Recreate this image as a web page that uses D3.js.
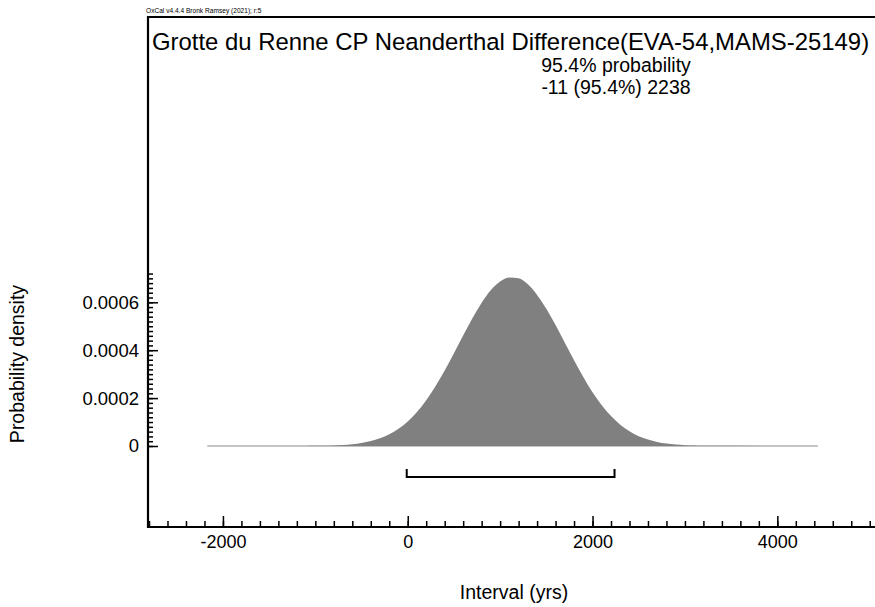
<!DOCTYPE html>
<head>
    <meta charset="utf-8">
    <script src="https://d3js.org/d3.v7.min.js"></script>
    <style>
        body { margin: 0; background: #fff; }
        text { font-family: "Liberation Sans", Arial, sans-serif; fill: #000; }
    </style>
</head>
<body>
<svg></svg>
</body>

<script>
    // Data
    var title = "Grotte du Renne CP Neanderthal Difference(EVA-54,MAMS-25149)";
    var header = "OxCal v4.4.4 Bronk Ramsey (2021); r:5";
    var rangeLabels = ["95.4% probability", "-11 (95.4%) 2238"];
    var hpdRange = [-11, 2238];

    var years = [-2170, -1100, -1000, -900, -800, -700, -600, -500, -400, -300, -200, -100,
        0, 100, 200, 300, 400, 500, 600, 700, 800, 900, 1000, 1100, 1200, 1300, 1400,
        1500, 1600, 1700, 1800, 1900, 2000, 2100, 2200, 2300, 2400, 2500, 2600, 2700,
        2800, 2900, 3000, 3100, 3200, 4440];
    var density = [0, 0.0000004, 0.0000007, 0.0000014, 0.0000025, 0.0000045, 0.0000076,
        0.0000127, 0.0000204, 0.000032, 0.0000486, 0.0000716,
        0.000102, 0.000142, 0.000191, 0.000249, 0.000315, 0.000387, 0.000461, 0.000533,
        0.000598, 0.000651, 0.000687, 0.000704, 0.000700, 0.000675, 0.000631,
        0.000573, 0.000505, 0.000431, 0.000358, 0.000288, 0.000224, 0.000170, 0.000125,
        0.000089, 0.0000615, 0.0000412, 0.0000269, 0.000017,
        0.0000104, 0.0000062, 0.0000036, 0.000002, 0.000001, 0];

    var xMajor = [-2000, 0, 2000, 4000];
    var xLabels = ["-2000", "0", "2000", "4000"];
    var yMajor = [0, 0.0002, 0.0004, 0.0006];
    var yLabels = ["0", "0.0002", "0.0004", "0.0006"];

    // Variables
    var width = 875;
    var height = 607;
    var pLeft = 148, pRight = 875, pTop = 17, pBottom = 527;

    var svg = d3.select('svg')
        .attr('width', width)
        .attr('height', height);

    var x = d3.scaleLinear().domain([-2811, 5057]).range([pLeft, pRight]);
    var y = d3.scaleLinear().domain([0, 0.0007]).range([446, 278.35]);

    // Baseline and distribution
    svg.append('line')
        .attr('x1', x(years[0])).attr('x2', x(years[years.length - 1]))
        .attr('y1', y(0)).attr('y2', y(0))
        .style('stroke', '#8a8a8a')
        .style('stroke-width', 1.2);

    var area = d3.area()
        .x(function (d, i) { return x(years[i]); })
        .y0(y(0))
        .y1(function (d) { return y(d); })
        .curve(d3.curveMonotoneX);

    svg.append('path')
        .attr('d', area(density))
        .style('fill', '#808080');

    // Range bracket
    var by = 477;
    svg.append('path')
        .attr('d', 'M' + x(hpdRange[0]) + ',' + (by - 8) + 'V' + by + 'H' + x(hpdRange[1]) + 'V' + (by - 8))
        .style('fill', 'none')
        .style('stroke', '#000')
        .style('stroke-width', 2);

    // Frame
    svg.append('path')
        .attr('d', 'M' + pRight + ',' + pTop + 'H' + pLeft + 'V' + pBottom + 'H' + pRight)
        .style('fill', 'none')
        .style('stroke', '#000')
        .style('stroke-width', 2.2);

    // X axis ticks
    var xMinor = svg.append('g')
        .attr('transform', 'translate(0,' + pBottom + ')')
        .call(d3.axisBottom(x).tickValues(d3.range(-2800, 5001, 200)).tickSize(-6).tickSizeOuter(0).tickFormat(''));
    xMinor.select('.domain').remove();

    var xAx = svg.append('g')
        .attr('transform', 'translate(0,' + pBottom + ')')
        .call(d3.axisBottom(x).tickValues(xMajor).tickSize(-11).tickSizeOuter(0)
            .tickFormat(function (d, i) { return xLabels[i]; }));
    xAx.select('.domain').remove();
    xAx.selectAll('text').style('font-size', '18px').attr('y', 8).attr('dy', '0.71em');

    // Y axis ticks
    var yMinor = svg.append('g')
        .attr('transform', 'translate(' + pLeft + ',0)')
        .call(d3.axisLeft(y).tickValues(d3.range(0, 0.000721, 0.00002)).tickSize(-5).tickSizeOuter(0).tickFormat(''));
    yMinor.select('.domain').remove();

    var yAx = svg.append('g')
        .attr('transform', 'translate(' + pLeft + ',0)')
        .call(d3.axisLeft(y).tickValues(yMajor).tickSize(-10).tickSizeOuter(0)
            .tickFormat(function (d, i) { return yLabels[i]; }));
    yAx.select('.domain').remove();
    yAx.selectAll('text').style('font-size', '18.5px').attr('x', -9);

    svg.selectAll('.tick line').style('stroke', '#000').style('stroke-width', 1.5);

    // Texts
    svg.append('text')
        .attr('x', 146).attr('y', 13)
        .style('font-size', '6.6px')
        .text(header);

    svg.append('text')
        .attr('x', 152).attr('y', 50)
        .style('font-size', '23.9px')
        .text(title);

    svg.selectAll('.rangeLabel')
        .data(rangeLabels)
        .enter().append('text')
        .attr('class', 'rangeLabel')
        .attr('x', 616)
        .attr('y', function (d, i) { return 72 + i * 22; })
        .attr('text-anchor', 'middle')
        .style('font-size', '19.5px')
        .text(function (d) { return d; });

    svg.append('text')
        .attr('transform', 'translate(24,364) rotate(-90)')
        .attr('text-anchor', 'middle')
        .style('font-size', '19.5px')
        .text('Probability density');

    svg.append('text')
        .attr('x', 514).attr('y', 599)
        .attr('text-anchor', 'middle')
        .style('font-size', '19.5px')
        .text('Interval (yrs)');
</script>
